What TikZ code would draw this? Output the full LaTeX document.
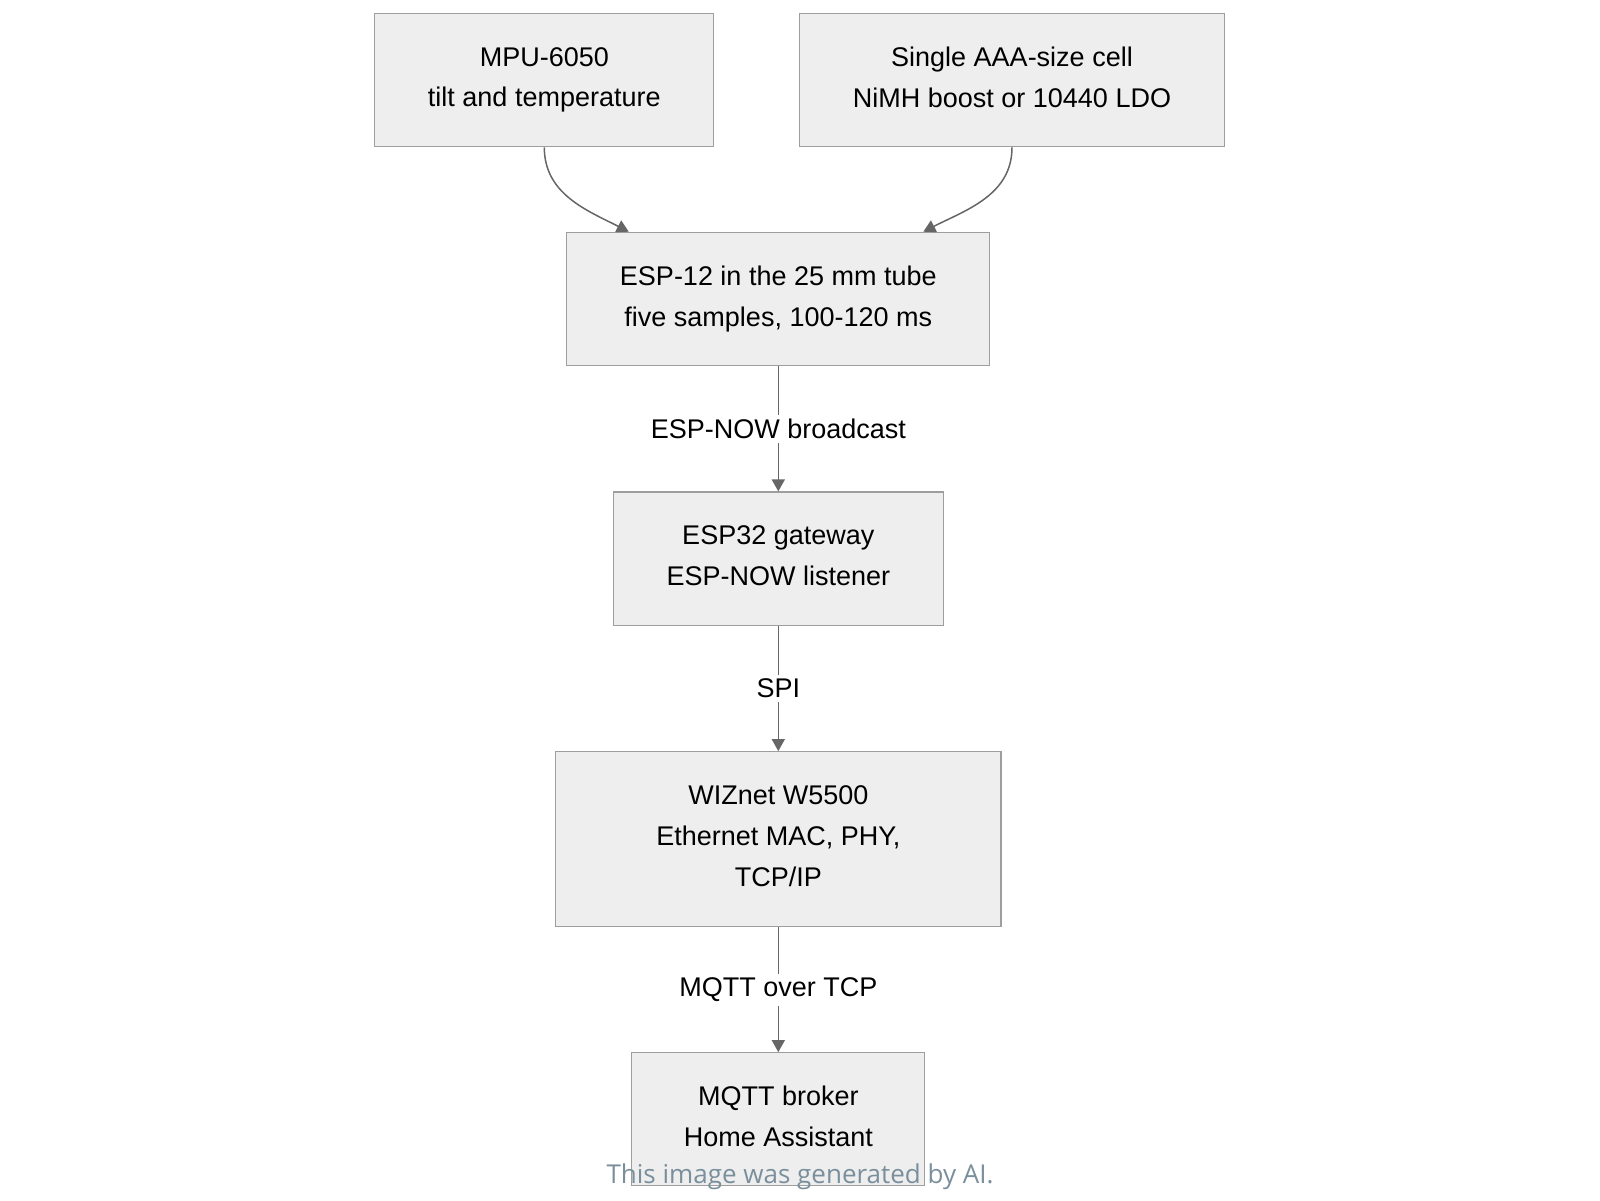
\documentclass[tikz,border=0pt]{standalone}
\usepackage{fontspec}
\setmainfont{Liberation Sans}
\newfontfamily\notefont{Open Sans}
\usetikzlibrary{arrows.meta}
\definecolor{boxfill}{HTML}{EEEEEE}
\definecolor{boxline}{HTML}{9E9E9E}
\definecolor{linkgray}{HTML}{666666}
\definecolor{notegray}{RGB}{122,143,156}

\begin{document}
\begin{tikzpicture}[x=0.5pt,y=-0.5pt,
  block/.style={draw=boxline, fill=boxfill, line width=0.6pt, align=center,
    inner sep=0pt, font=\fontsize{13.5}{20.4}\selectfont,
    execute at begin node=\rule{0pt}{23.8pt},
    execute at end node=\rule[-3pt]{0pt}{3pt}},
  link/.style={draw=linkgray, line width=0.75pt,
    -{Triangle[length=6pt,width=6.5pt,fill=linkgray]}},
  tag/.style={fill=white, inner sep=2pt, font=\fontsize{13.5}{16}\selectfont}]
\useasboundingbox (0,0) rectangle (1600,1200);

\coordinate (r1) at (544.3,80);
\coordinate (r2) at (1012,80);
\coordinate (r3) at (778.3,299);
\coordinate (r4) at (778.3,558.8);
\coordinate (r5) at (778.3,839.2);
\coordinate (r6) at (778.3,1119.2);

\node[block, minimum width=169.5pt, minimum height=66.7pt] (mpu) at (r1)
  {MPU-6050\\tilt and temperature};
\node[block, minimum width=212.6pt, minimum height=66.7pt] (cell) at (r2)
  {Single AAA-size cell\\NiMH boost or 10440 LDO};
\node[block, minimum width=211.5pt, minimum height=66.7pt] (esp) at (r3)
  {ESP-12 in the 25 mm tube\\five samples, 100-120 ms};
\node[block, minimum width=165pt, minimum height=66.8pt] (gw) at (r4)
  {ESP32 gateway\\ESP-NOW listener};
\node[block, minimum width=222.6pt, minimum height=87.5pt] (wiz) at (r5)
  {WIZnet W5500\\Ethernet MAC, PHY,\\TCP/IP};
\node[block, minimum width=146.5pt, minimum height=66.5pt] (broker) at (r6)
  {MQTT broker\\Home Assistant};

\path (esp.north) ++(-74.75pt,0) coordinate (pe1);
\path (esp.north) ++(72.5pt,0) coordinate (pe2);

\draw[link] (mpu.south) to[out=-90,in=153] (pe1);
\draw[link] (cell.south) to[out=-90,in=27] (pe2);

\draw[link] (esp) -- node[tag] (t1) {ESP-NOW broadcast} (gw);
\draw[link] (gw) -- node[tag] (t2) {SPI} (wiz);
\draw[link] (wiz) -- node[tag] (t3) {MQTT over TCP} (broker);

\node[text=notegray, inner sep=0pt, font=\notefont\fontsize{13}{15}\selectfont]
  (note) at (800,1177) {This image was generated by AI.};
\end{tikzpicture}
\end{document}
